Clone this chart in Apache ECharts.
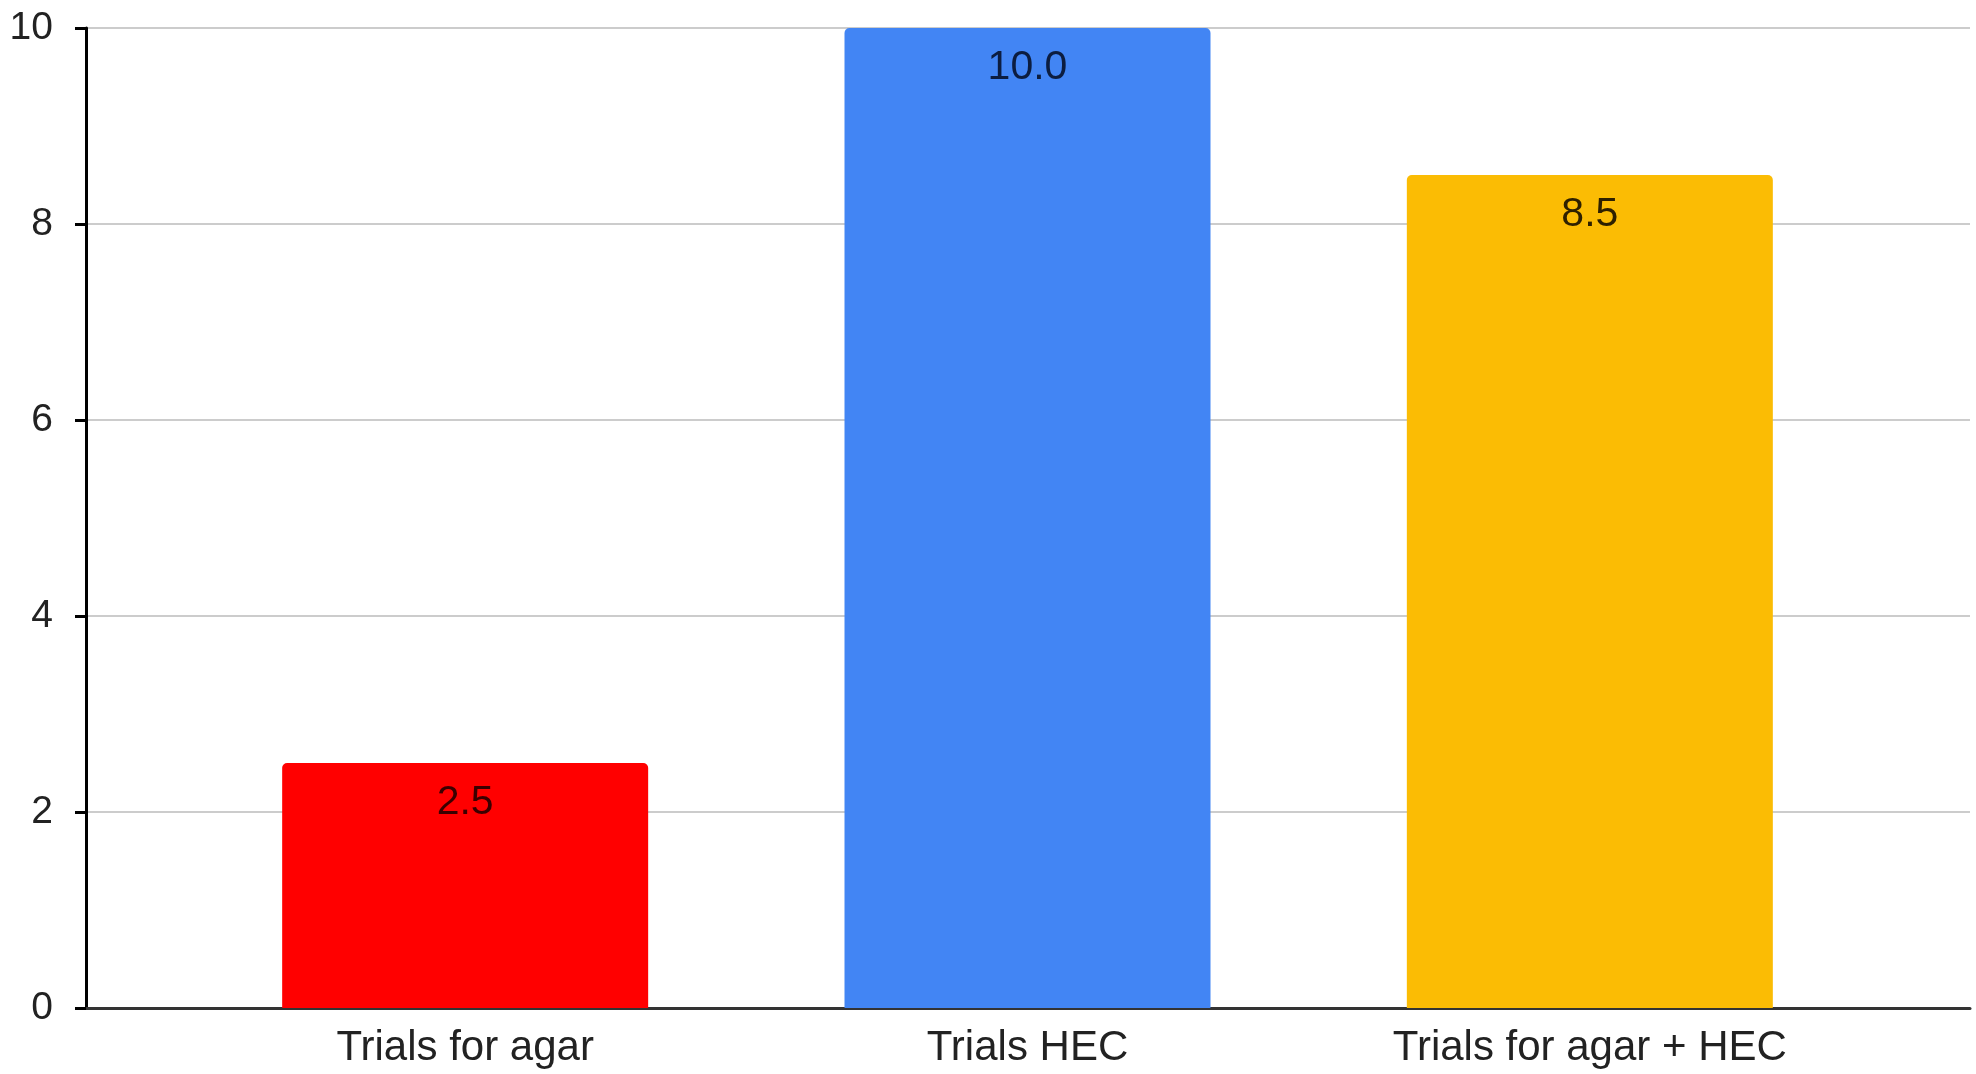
<!DOCTYPE html>
<html>
<head>
<meta charset="utf-8">
<script src="https://cdn.jsdelivr.net/npm/echarts@6/dist/echarts.min.js"></script>
<style>
  html, body { margin: 0; padding: 0; background: #ffffff; }
  #chart { width: 1976px; height: 1074px; }
</style>
</head>
<body>
<div id="chart"></div>
<script>
// Trial counts per thickener
const categories = ['Trials for agar', 'Trials HEC', 'Trials for agar + HEC'];
const trialValues = [2.5, 10.0, 8.5];
const barColors = ['#ff0000', '#4285f4', '#fbbc04'];
const labelColors = ['#3b0000', '#0c1d40', '#2e2000'];
const yTicks = [0, 2, 4, 6, 8, 10];

const FONT = '"Liberation Sans", Arial, sans-serif';
const yMin = yTicks[0];
const yMax = yTicks[yTicks.length - 1];
const yStep = yTicks[1] - yTicks[0];

const chart = echarts.init(document.getElementById('chart'), null, { renderer: 'canvas' });

chart.setOption({
  backgroundColor: '#ffffff',
  animation: false,
  grid: [
    // frame: y axis, gridlines and baseline across the full width
    { left: 86, right: 6, top: 28, bottom: 66, containLabel: false },
    // inner band holding the three bars
    { left: 184, right: 105, top: 28, bottom: 66, containLabel: false }
  ],
  xAxis: [
    {
      gridIndex: 0,
      type: 'value',
      min: 0, max: 1,
      axisLine: { show: true, lineStyle: { color: '#333333', width: 3 } },
      axisTick: { show: false },
      axisLabel: { show: false },
      splitLine: { show: false }
    },
    {
      gridIndex: 1,
      type: 'category',
      data: categories,
      axisLine: { show: false },
      axisTick: { show: false },
      axisLabel: {
        color: '#222222',
        fontFamily: FONT,
        fontSize: 42,
        margin: 19
      }
    }
  ],
  yAxis: [
    {
      gridIndex: 0,
      type: 'value',
      min: yMin, max: yMax, interval: yStep,
      axisLine: { show: true, lineStyle: { color: '#000000', width: 3 } },
      axisTick: { show: true, length: 11, lineStyle: { color: '#000000', width: 3 } },
      axisLabel: {
        color: '#222222',
        fontFamily: FONT,
        fontSize: 39,
        margin: 33
      },
      splitLine: { show: true, lineStyle: { color: '#cccccc', width: 2 } }
    },
    {
      gridIndex: 1,
      type: 'value',
      min: yMin, max: yMax, interval: yStep,
      axisLine: { show: false },
      axisTick: { show: false },
      axisLabel: { show: false },
      splitLine: { show: false }
    }
  ],
  series: [
    {
      type: 'bar',
      xAxisIndex: 1,
      yAxisIndex: 1,
      barWidth: 366,
      z: 3,
      data: trialValues.map((v, i) => ({
        value: v,
        itemStyle: { color: barColors[i], borderRadius: [5, 5, 0, 0] },
        label: { color: labelColors[i] }
      })),
      label: {
        show: true,
        position: 'insideTop',
        distance: 19,
        fontFamily: FONT,
        fontSize: 41,
        formatter: p => p.value.toFixed(1)
      }
    }
  ]
});
</script>
</body>
</html>
